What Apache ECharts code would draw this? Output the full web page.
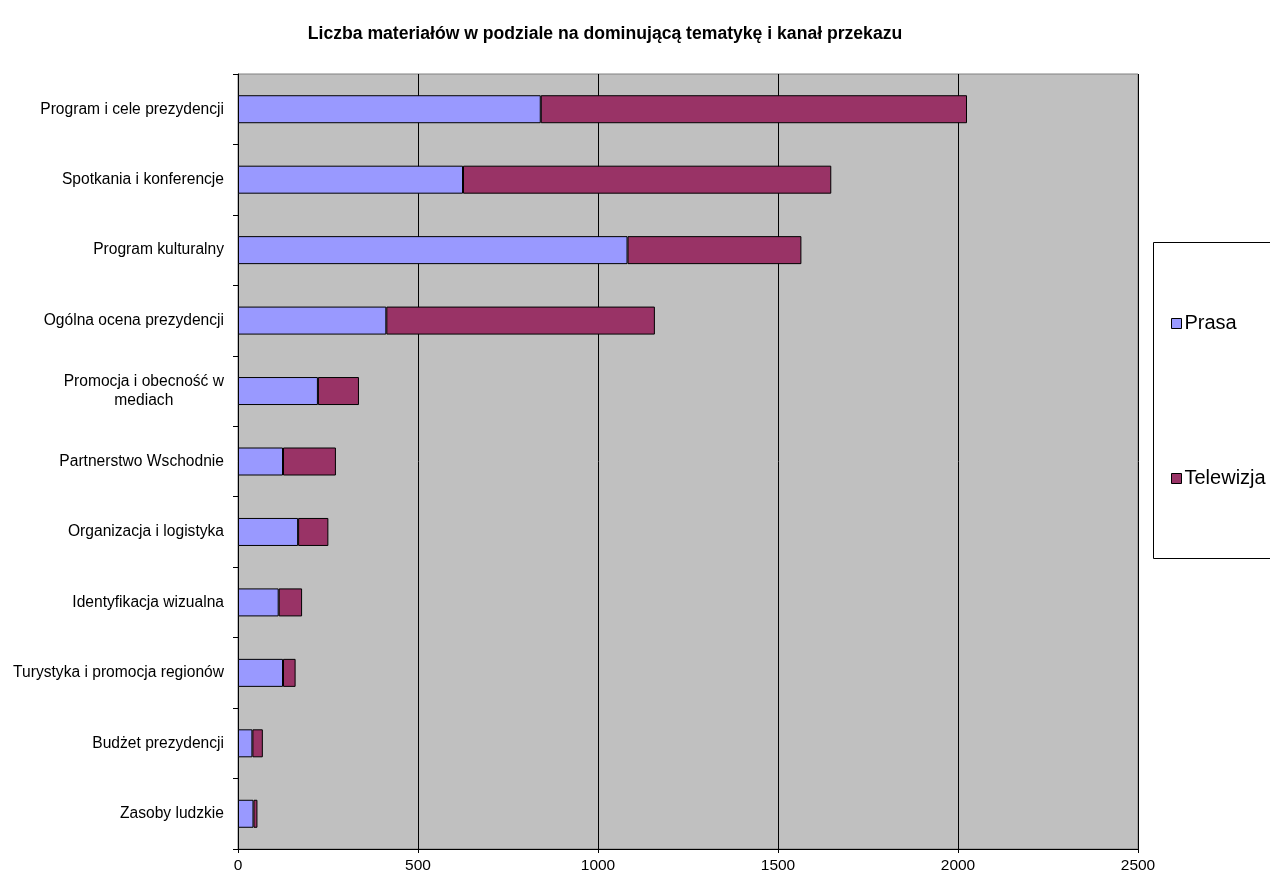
<!DOCTYPE html>
<html>
<head>
<meta charset="utf-8">
<script src="https://cdn.jsdelivr.net/npm/echarts@6/dist/echarts.min.js"></script>
<style>
  html, body { margin: 0; padding: 0; background: #fff; }
  #chart { width: 1270px; height: 873px; }
</style>
</head>
<body>
<div id="chart"></div>
<script>
// Topics (top to bottom) and number of items per channel
const categories = [
  'Program i cele prezydencji',
  'Spotkania i konferencje',
  'Program kulturalny',
  'Ogólna ocena prezydencji',
  'Promocja i obecność w\nmediach',
  'Partnerstwo Wschodnie',
  'Organizacja i logistyka',
  'Identyfikacja wizualna',
  'Turystyka i promocja regionów',
  'Budżet prezydencji',
  'Zasoby ludzkie'
];
const prasa     = [841, 625, 1082, 412, 222, 125, 167, 113, 125, 40, 43];
const telewizja = [1184, 1023, 483, 746, 114, 147, 84, 65, 35, 29, 11];
const xTicks = { min: 0, max: 2500, interval: 500 };
const titleText = 'Liczba materiałów w podziale na dominującą tematykę i kanał przekazu';

const FONT = "'Liberation Sans', Arial, sans-serif";
const chart = echarts.init(document.getElementById('chart'), null, { renderer: 'canvas' });

chart.setOption({
  animation: false,
  backgroundColor: '#ffffff',
  textStyle: { fontFamily: FONT },
  title: {
    text: titleText,
    left: 600,
    textAlign: 'center',
    top: 20,
    textStyle: { fontFamily: FONT, fontSize: 17.6, fontWeight: 'bold', color: '#000' }
  },
  graphic: [{
    type: 'rect',
    shape: { x: 1153.5, y: 242.5, width: 130, height: 316 },
    style: { fill: '#fff', stroke: '#000', lineWidth: 1 },
    z: 0
  }],
  legend: {
    orient: 'vertical',
    left: 1166,
    top: 308.5,
    itemGap: 135,
    itemWidth: 10,
    itemHeight: 10,
    icon: 'rect',
    itemStyle: { borderColor: '#000', borderWidth: 1 },
    textStyle: { fontFamily: FONT, fontSize: 20, color: '#000', lineHeight: 20, padding: [0, 0, 0, -2] },
    data: ['Prasa', 'Telewizja'],
    z: 5
  },
  grid: {
    left: 238,
    right: 132,
    top: 74,
    bottom: 24,
    outerBoundsMode: 'none',
    containLabel: false,
    show: true,
    backgroundColor: '#C0C0C0',
    borderColor: '#808080',
    borderWidth: 1
  },
  xAxis: {
    type: 'value',
    min: xTicks.min,
    max: xTicks.max,
    interval: xTicks.interval,
    axisLine: { show: true, lineStyle: { color: '#000', width: 1 } },
    axisTick: { show: true, length: 4, lineStyle: { color: '#000' } },
    axisLabel: { fontFamily: FONT, fontSize: 15.5, color: '#000', margin: 9, formatter: v => String(v) },
    splitLine: { show: true, lineStyle: { color: '#000', width: 1 } }
  },
  yAxis: {
    type: 'category',
    inverse: true,
    data: categories,
    axisLine: { show: true, lineStyle: { color: '#000', width: 1 } },
    axisTick: { show: true, length: 5, alignWithLabel: false, lineStyle: { color: '#000' } },
    axisLabel: {
      fontFamily: FONT,
      fontSize: 15.6,
      color: '#000',
      margin: 14,
      align: 'right',
      formatter: v => v.split('\n').map(s => '{c|' + s + '}').join('\n'),
      rich: { c: { align: 'center', fontFamily: FONT, fontSize: 15.6, lineHeight: 19, color: '#000' } }
    },
    splitLine: { show: false }
  },
  series: [
    {
      name: 'Prasa',
      type: 'bar',
      stack: 'total',
      barWidth: 28,
      data: prasa,
      itemStyle: { color: '#9999FF', borderColor: '#000', borderWidth: 1 }
    },
    {
      name: 'Telewizja',
      type: 'bar',
      stack: 'total',
      barWidth: 28,
      data: telewizja,
      itemStyle: { color: '#993366', borderColor: '#000', borderWidth: 1 }
    }
  ]
});
</script>
</body>
</html>
